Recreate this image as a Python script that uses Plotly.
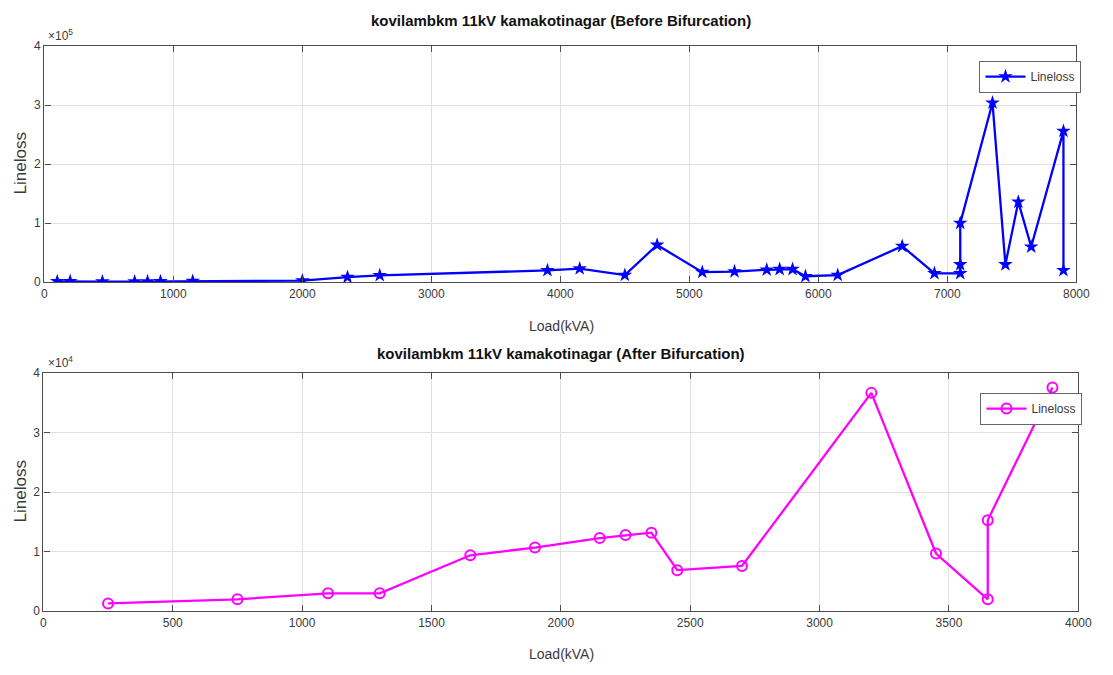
import plotly.graph_objects as go

# Feeder line loss versus load, before and after bifurcation
loads_before = [100, 200, 450, 700, 800, 900, 1150, 2000, 2350, 2600, 3900, 4150,
                4500, 4750, 5100, 5350, 5600, 5700, 5800, 5900, 6150, 6650, 6900,
                7100, 7100, 7100, 7350, 7450, 7550, 7650, 7900, 7900]
loss_before = [1200, 1500, 1000, 900, 1100, 1300, 1800, 2500, 8500, 11500, 20000, 23000,
               12000, 63000, 17000, 18000, 21000, 22000, 22000, 10000, 12000, 61000, 15000,
               15000, 30000, 100000, 304000, 30000, 136000, 60000, 256000, 20000]

loads_after = [250, 750, 1100, 1300, 1650, 1900, 2150, 2250, 2350, 2450, 2700,
               3200, 3450, 3650, 3650, 3900]
loss_after = [1300, 2000, 3000, 3000, 9400, 10700, 12300, 12800, 13200, 6900, 7600,
              36700, 9700, 2000, 15300, 37600]

title_before = "kovilambkm 11kV kamakotinagar (Before Bifurcation)"
title_after = "kovilambkm 11kV kamakotinagar (After Bifurcation)"
x_label = "Load(kVA)"
y_label = "Lineloss"
series_name = "Lineloss"

ticks_before_x = [0, 1000, 2000, 3000, 4000, 5000, 6000, 7000, 8000]
ticks_after_x = [0, 500, 1000, 1500, 2000, 2500, 3000, 3500, 4000]
y_tick_digits = ["0", "1", "2", "3", "4"]

W, H = 1113, 675
FONT = "Liberation Sans, Arial, sans-serif"
AXIS_COLOR = "#4d4d4d"
TEXT_COLOR = "#3a3a3a"
GRID_COLOR = "#e0e0e0"


def px_x(p):
    return p / W


def px_y(p):
    return 1 - p / H


fig = go.Figure()

fig.add_trace(go.Scatter(
    x=loads_before, y=loss_before, mode="lines+markers", name=series_name,
    line=dict(color="#0000ff", width=2.3),
    marker=dict(symbol="star", size=11, color="#0000ff", line=dict(width=0)),
    xaxis="x", yaxis="y", legend="legend",
))
fig.add_trace(go.Scatter(
    x=loads_after, y=loss_after, mode="lines+markers", name=series_name,
    line=dict(color="#ff00ff", width=2.3),
    marker=dict(symbol="circle-open", size=10, color="#ff00ff", line=dict(width=2)),
    xaxis="x2", yaxis="y2", legend="legend2",
))

axis_common = dict(
    showgrid=True, gridcolor=GRID_COLOR, gridwidth=1,
    showline=True, linecolor=AXIS_COLOR, linewidth=1.3, mirror="allticks",
    ticks="inside", ticklen=6, tickcolor=AXIS_COLOR, tickwidth=1,
    zeroline=False, tickfont=dict(family=FONT, size=12, color=TEXT_COLOR),
)

legend_common = dict(
    xanchor="right", yanchor="top", bgcolor="white", bordercolor="#666666",
    borderwidth=1.2, font=dict(family=FONT, size=12, color=TEXT_COLOR),
    itemwidth=40, tracegroupgap=0,
)

fig.update_layout(
    width=W, height=H, margin=dict(l=0, r=0, t=0, b=0),
    paper_bgcolor="white", plot_bgcolor="white",
    font=dict(family=FONT, color=TEXT_COLOR),
    xaxis=dict(domain=[px_x(42), px_x(1090)], range=[0, 8000], anchor="y",
               tickvals=ticks_before_x, **axis_common),
    yaxis=dict(domain=[px_y(281), px_y(40)], range=[0, 4e5], anchor="x",
               tickvals=[i * 1e5 for i in range(5)], ticktext=y_tick_digits,
               **axis_common),
    xaxis2=dict(domain=[px_x(41), px_x(1092)], range=[0, 4000], anchor="y2",
                tickvals=ticks_after_x, **axis_common),
    yaxis2=dict(domain=[px_y(617), px_y(374)], range=[0, 4e4], anchor="x2",
                tickvals=[i * 1e4 for i in range(5)], ticktext=y_tick_digits,
                **axis_common),
    legend=dict(x=px_x(1095), y=px_y(55), **legend_common),
    legend2=dict(x=px_x(1096), y=px_y(394), **legend_common),
    showlegend=True,
)

for text, yc in ((title_before, 14), (title_after, 354)):
    fig.add_annotation(text=f"<b>{text}</b>", x=px_x(567), y=px_y(yc),
                       xref="paper", yref="paper", showarrow=False,
                       xanchor="center", yanchor="middle",
                       font=dict(family=FONT, size=15, color="#111111"))

for yc in (326, 661):
    fig.add_annotation(text=x_label, x=px_x(567), y=px_y(yc), xref="paper", yref="paper",
                       showarrow=False, xanchor="center", yanchor="middle",
                       font=dict(family=FONT, size=14, color=TEXT_COLOR))

for yc in (160, 495):
    fig.add_annotation(text=y_label, x=px_x(18), y=px_y(yc), xref="paper", yref="paper",
                       showarrow=False, xanchor="center", yanchor="middle", textangle=-90,
                       font=dict(family=FONT, size=17, color=TEXT_COLOR))

for yc, exp in ((29, "5"), (363, "4")):
    fig.add_annotation(text=f"×10<sup>{exp}</sup>", x=px_x(44), y=px_y(yc),
                       xref="paper", yref="paper", showarrow=False,
                       xanchor="left", yanchor="middle",
                       font=dict(family=FONT, size=12, color=TEXT_COLOR))

fig.write_html("out.html")
